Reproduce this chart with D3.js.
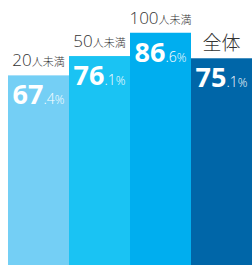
<!DOCTYPE html>
<html><head><meta charset="utf-8">
<script src="https://cdn.jsdelivr.net/npm/d3@7"></script>
<style>html,body{margin:0;padding:0;background:#fff;}svg{display:block;}</style>
</head><body>
<script>
const categories = ["20", "50", "100", "全体"];
const suffixes = ["人未満", "人未満", "人未満", ""];
const values = [67.4, 76.1, 86.6, 75.1];
const colors = ["#74CFF5", "#1AC3F3", "#00AEEF", "#0066A8"];

const W = 252, H = 265;
const svg = d3.select("body").append("svg").attr("width", W).attr("height", H);
const x = d3.scaleBand().domain(categories).range([8, 252]).padding(0);
const y = d3.scaleLinear().domain([0, 100]).range([225, 3]);

const g = svg.selectAll("g.bar").data(values).enter().append("g");
g.append("rect")
  .attr("x", (d, i) => x(categories[i]))
  .attr("width", x.bandwidth())
  .attr("y", d => y(d))
  .attr("height", d => H - y(d))
  .attr("fill", (d, i) => colors[i]);

// value labels
const vt = g.append("text")
  .attr("x", (d, i) => x(categories[i]) + x.bandwidth() / 2)
  .attr("y", d => y(d) + 29)
  .attr("text-anchor", "middle")
  .attr("fill", "#fff")
  .attr("font-family", "'Open Sans', 'Noto Sans', sans-serif");
vt.append("tspan").attr("font-size", 27).attr("font-weight", 700)
  .text(d => Math.floor(d));
vt.append("tspan").attr("font-size", 14).attr("font-weight", 300)
  .text(d => "." + Math.round((d * 10) % 10));
vt.append("tspan").attr("font-size", 12).attr("font-weight", 300)
  .text("%");

// category labels
const ct = g.append("text")
  .attr("x", (d, i) => x(categories[i]) + x.bandwidth() / 2)
  .attr("y", (d, i) => y(d) - (i === 3 ? 8 : 9))
  .attr("text-anchor", "middle")
  .attr("fill", "#333")
  .attr("font-family", "'Noto Sans CJK JP', 'Noto Sans', sans-serif")
  .attr("font-weight", 300);
ct.append("tspan").attr("font-size", (d, i) => i === 3 ? 19 : 17)
  .attr("font-family", (d, i) => i === 3 ? "'Noto Sans CJK JP'" : "'Open Sans', sans-serif")
  .text((d, i) => categories[i]);
ct.append("tspan").attr("font-size", 11)
  .text((d, i) => suffixes[i]);
</script>
</body></html>
